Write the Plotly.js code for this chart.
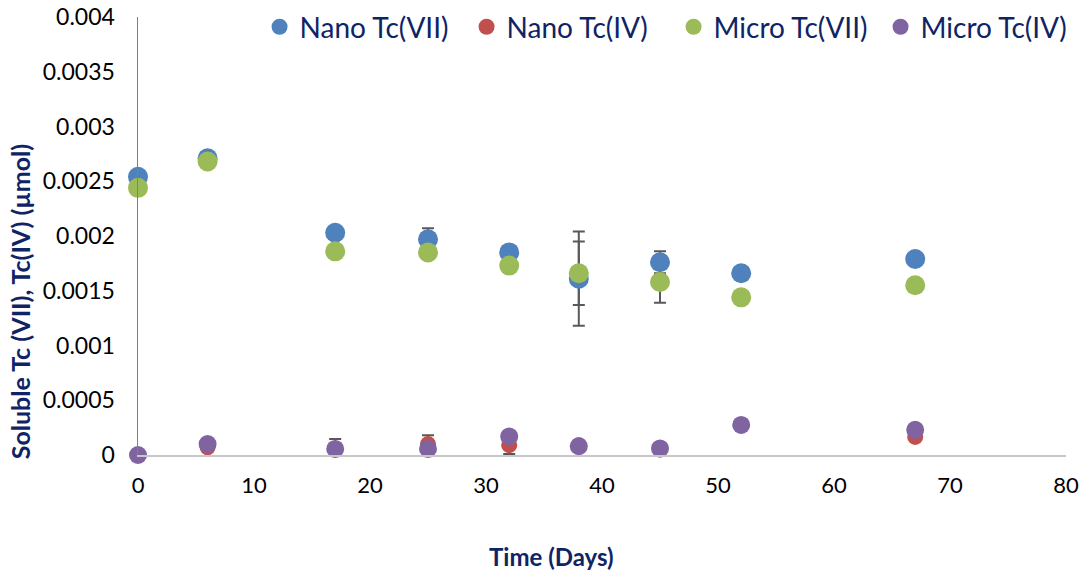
<!DOCTYPE html>
<html>
<head>
<meta charset="utf-8">
<script src="https://cdn.plot.ly/plotly-3.0.1.min.js"></script>
<style>html,body{margin:0;padding:0;background:#fff;}#chart{width:1082px;height:572px;}</style>
</head>
<body>
<div id="chart"></div>
<script>
const days = [0, 6, 17, 25, 32, 38, 45, 52, 67];
const nanoVII  = [0.00254, 0.00271, 0.00203, 0.00197, 0.00185, 0.00161, 0.00176, 0.00166, 0.00179];
const nanoIV   = [0, 0.00007, 0.00005, 0.00010, 0.00009, 0.00009, 0.00005, 0.00027, 0.000165];
const microVII = [0.00244, 0.00268, 0.00186, 0.00185, 0.00173, 0.00166, 0.00158, 0.00144, 0.00155];
const microIV  = [0, 0.00010, 0.000055, 0.000055, 0.00017, 0.00008, 0.00006, 0.000275, 0.00023];
const errNanoVII  = [0, 0, 0, 0.0001, 0, 0.00043, 0.0001, 0, 0];
const errNanoIV   = [0, 0, 0, 0.00008, 0.00008, 0, 0, 0, 0];
const errMicroVII = [0, 0, 0, 0, 0, 0.00029, 0.00019, 0, 0];
const errMicroIV  = [0, 0, 0.00009, 0, 0, 0, 0, 0, 0];
const seriesNames = ["Nano Tc(VII)", "Nano Tc(IV)", "Micro Tc(VII)", "Micro Tc(IV)"];
const yTickVals = [0, 0.0005, 0.001, 0.0015, 0.002, 0.0025, 0.003, 0.0035, 0.004];
const yTickText = ["0", "0.0005", "0.001", "0.0015", "0.002", "0.0025", "0.003", "0.0035", "0.004"];
const xTickVals = [0, 10, 20, 30, 40, 50, 60, 70, 80];
const xTitle = "Time (Days)";
const yTitle = "Soluble Tc (VII), Tc(IV) (µmol)";

const colors = ["#4F81BD", "#C0504D", "#9BBB59", "#8064A2"];
const sizes = [20, 16, 20, 18];
const ys = [nanoVII, nanoIV, microVII, microIV];
const errs = [errNanoVII, errNanoIV, errMicroVII, errMicroIV];
const navy = "#0E2464";
const FONT = "Lato, 'Noto Sans', sans-serif";

const traces = [];
for (let i = 0; i < 4; i++) {
  traces.push({
    x: days, y: ys[i], type: "scatter", mode: "markers",
    marker: {size: sizes[i], color: colors[i], opacity: 0},
    error_y: {type: "data", array: errs[i], visible: true, color: "#595959", thickness: 2, width: 6},
    showlegend: false, hoverinfo: "skip", cliponaxis: false
  });
}
for (let i = 0; i < 4; i++) {
  traces.push({
    x: days, y: ys[i], type: "scatter", mode: "markers", name: seriesNames[i],
    marker: {size: sizes[i], color: colors[i]},
    cliponaxis: false
  });
}

const layout = {
  width: 1082, height: 572,
  margin: {l: 138, r: 16, t: 17, b: 117, autoexpand: false},
  paper_bgcolor: "#fff", plot_bgcolor: "#fff",
  font: {family: FONT, color: "#000"},
  showlegend: true,
  legend: {
    orientation: "h", x: 0.131, xanchor: "left", y: 0.977, yanchor: "middle",
    font: {family: FONT, size: 28, color: navy},
    bgcolor: "rgba(0,0,0,0)", itemsizing: "trace", entrywidth: 162, entrywidthmode: "pixels"
  },
  xaxis: {
    range: [0, 80], tickvals: xTickVals, ticks: "", showgrid: false, zeroline: false,
    showline: true, linecolor: "#C8C8C8", linewidth: 2,
    tickfont: {family: FONT, size: 22, color: "#000"}, ticklabelstandoff: 10
  },
  yaxis: {
    range: [0, 0.004], tickvals: yTickVals, ticktext: yTickText, ticks: "", showgrid: false, zeroline: false,
    showline: true, linecolor: "#808080", linewidth: 1.5,
    tickfont: {family: FONT, size: 23, color: "#000"}, ticklabelstandoff: 17
  },
  annotations: [
    {text: "<b>" + xTitle + "</b>", xref: "paper", yref: "paper", x: 0.446, y: -0.232,
     xanchor: "center", yanchor: "middle", showarrow: false, font: {family: FONT, size: 24, color: navy}},
    {text: "<b>" + yTitle + "</b>", xref: "paper", yref: "paper", x: -0.127, y: 0.349,
     xanchor: "center", yanchor: "middle", textangle: -90, showarrow: false, font: {family: FONT, size: 25, color: navy}}
  ]
};

Plotly.newPlot("chart", traces, layout, {displayModeBar: false, staticPlot: true});
</script>
</body>
</html>
